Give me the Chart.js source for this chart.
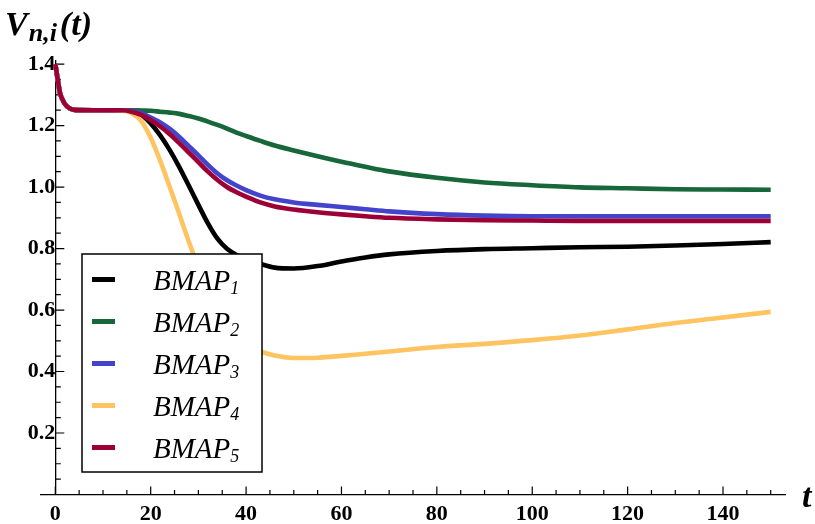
<!DOCTYPE html>
<html><head><meta charset="utf-8">
<script src="https://cdn.jsdelivr.net/npm/chart.js@4/dist/chart.umd.min.js"></script>
<style>html,body{margin:0;padding:0;background:#fff;}#wrap{width:815px;height:524px;}</style>
</head><body><div id="wrap"><canvas id="c" width="815" height="524"></canvas></div>
<script>
// ---- data ----
const times = [0,0.5,1,1.5,2,3,4,8,12,14,16,18,20,22,24,26,28,30,32,34,36,38,40,43,46,50,55,60,65,70,80,90,100,110,120,130,140,150];
const startPart = [1.40,1.35,1.305,1.285,1.27,1.256,1.251,1.25,1.25];
const bmap1 = startPart.concat([1.25,1.247,1.236,1.207,1.168,1.12,1.065,1.004,0.942,0.882,0.832,0.799,0.779,0.765,0.75,0.738,0.735,0.743,0.758,0.771,0.781,0.792,0.798,0.801,0.804,0.806,0.81,0.815,0.821]);
const bmap2 = startPart.concat([1.25,1.25,1.249,1.248,1.245,1.242,1.238,1.231,1.223,1.213,1.202,1.19,1.177,1.166,1.15,1.135,1.119,1.10,1.082,1.066,1.051,1.03,1.015,1.006,0.999,0.996,0.993,0.992,0.991]);
const bmap3 = startPart.concat([1.25,1.247,1.24,1.226,1.21,1.189,1.163,1.133,1.103,1.072,1.044,1.022,1.005,0.99,0.972,0.96,0.95,0.942,0.935,0.928,0.921,0.912,0.907,0.905,0.905,0.905,0.905,0.905,0.905]);
const bmap4 = startPart.concat([1.249,1.24,1.215,1.16,1.085,1.0,0.912,0.822,0.74,0.665,0.60,0.548,0.51,0.485,0.465,0.452,0.444,0.445,0.451,0.458,0.465,0.480,0.490,0.502,0.517,0.537,0.558,0.576,0.594]);
const bmap5 = startPart.concat([1.25,1.245,1.235,1.218,1.197,1.172,1.143,1.112,1.081,1.05,1.023,1.0,0.983,0.969,0.95,0.937,0.927,0.918,0.911,0.905,0.90,0.895,0.892,0.891,0.89,0.89,0.89,0.89,0.89]);
const seriesNames = ['BMAP','BMAP','BMAP','BMAP','BMAP'];
const seriesSubs = ['1','2','3','4','5'];
const seriesColors = ['#000000','#17673a','#4343cb','#ffc462','#9c0036'];
const seriesValues = [bmap1,bmap2,bmap3,bmap4,bmap5];
const xMajorTicks = [0,20,40,60,80,100,120,140];
const yMajorTicks = [0.2,0.4,0.6,0.8,1.0,1.2,1.4];
const yTitle = ['V','n,i','(t)'];
const xTitle = 't';

const SERIF = '"Liberation Serif", "DejaVu Serif", serif';

const datasets = seriesValues.map((vals,i)=>({
  label: seriesNames[i] + seriesSubs[i],
  data: times.map((t,k)=>({x:t,y:vals[k]})),
  borderColor: seriesColors[i],
  backgroundColor: seriesColors[i],
  borderWidth: 4.6,
  pointRadius: 0,
  cubicInterpolationMode: 'monotone',
  fill: false,
  order: 5 - i
}));

function isMult(v, step){ const q = v/step; return Math.abs(q - Math.round(q)) < 1e-6; }

const decor = {
  id: 'decor',
  beforeDatasetsDraw(chart){
    const ctx = chart.ctx, xs = chart.scales.x, ys = chart.scales.y;
    const x0 = xs.getPixelForValue(0), y0 = ys.getPixelForValue(0);
    ctx.save();
    ctx.strokeStyle = '#000'; ctx.lineWidth = 1.2;
    ctx.beginPath();
    xs.ticks.forEach(t=>{
      const px = xs.getPixelForValue(t.value);
      const len = isMult(t.value,20) ? 8 : 4.5;
      ctx.moveTo(px, y0); ctx.lineTo(px, y0 - len);
    });
    ys.ticks.forEach(t=>{
      const py = ys.getPixelForValue(t.value);
      const len = isMult(t.value,0.2) ? 9 : 5.5;
      ctx.moveTo(x0, py); ctx.lineTo(x0 + len, py);
    });
    ctx.stroke();
    ctx.restore();
  },
  afterDraw(chart){
    const ctx = chart.ctx;
    ctx.save();
    // axis titles
    ctx.fillStyle = '#000';
    ctx.textBaseline = 'alphabetic';
    ctx.textAlign = 'left';
    ctx.font = 'italic bold 34px ' + SERIF;
    ctx.fillText(yTitle[0], 5, 35);
    let w = ctx.measureText(yTitle[0]).width;
    ctx.font = 'italic bold 26px ' + SERIF;
    ctx.fillText(yTitle[1], 5 + w + 1, 41);
    let w2 = ctx.measureText(yTitle[1]).width;
    ctx.font = 'italic bold 34px ' + SERIF;
    ctx.fillText(yTitle[2], 5 + w + 1 + w2 + 3, 35);
    ctx.fillText(xTitle, 802, 507);

    // legend box
    const bx = 82, by = 254, bw = 180, bh = 218;
    ctx.fillStyle = '#fff';
    ctx.fillRect(bx, by, bw, bh);
    ctx.strokeStyle = '#000'; ctx.lineWidth = 1.5;
    ctx.strokeRect(bx, by, bw, bh);
    chart.data.datasets.forEach((ds,i)=>{
      const cy = 279.5 + i*42;
      ctx.strokeStyle = ds.borderColor; ctx.lineWidth = 5; ctx.lineCap = 'butt';
      ctx.beginPath(); ctx.moveTo(92, cy); ctx.lineTo(115, cy); ctx.stroke();
      ctx.fillStyle = '#000';
      ctx.font = 'italic 29px ' + SERIF;
      ctx.fillText(seriesNames[i], 153, cy + 10.5);
      const tw = ctx.measureText(seriesNames[i]).width;
      ctx.font = 'italic 18px ' + SERIF;
      ctx.fillText(seriesSubs[i], 153 + tw, cy + 14.5);
    });
    ctx.restore();
  }
};

new Chart(document.getElementById('c'), {
  type: 'line',
  data: { datasets },
  options: {
    responsive: false,
    animation: false,
    devicePixelRatio: 1,
    layout: { padding: { left: 41, right: 30, top: 61, bottom: 29.5 } },
    plugins: { legend: { display: false }, tooltip: { enabled: false }, title: { display: false } },
    scales: {
      x: {
        type: 'linear',
        position: { y: 0 },
        min: -3, max: 153,
        afterBuildTicks(scale){
          const arr = [];
          for (let v = 0; v <= 150; v += 5) arr.push({ value: v });
          scale.ticks = arr;
        },
        grid: { display: true, drawOnChartArea: false, drawTicks: false },
        border: { display: true, color: '#000', width: 1.3 },
        ticks: {
          autoSkip: false, maxRotation: 0, padding: 7, color: '#000',
          font: { family: SERIF, size: 22, weight: 'bold' },
          callback: (v)=> xMajorTicks.includes(v) ? String(v) : ''
        }
      },
      y: {
        type: 'linear',
        position: { x: 0 },
        min: 0, max: 1.41,
        afterBuildTicks(scale){
          const arr = [];
          for (let k = 1; k <= 28; k++) arr.push({ value: Math.round(k*5)/100 });
          scale.ticks = arr;
        },
        grid: { display: true, drawOnChartArea: false, drawTicks: false },
        border: { display: true, color: '#000', width: 1.3 },
        ticks: {
          autoSkip: false, padding: 8, color: '#000',
          font: { family: SERIF, size: 22, weight: 'bold' },
          callback: (v)=> yMajorTicks.some(m=>Math.abs(m-v)<1e-6) ? v.toFixed(1) : ''
        }
      }
    }
  },
  plugins: [decor]
});
</script>
</body></html>
